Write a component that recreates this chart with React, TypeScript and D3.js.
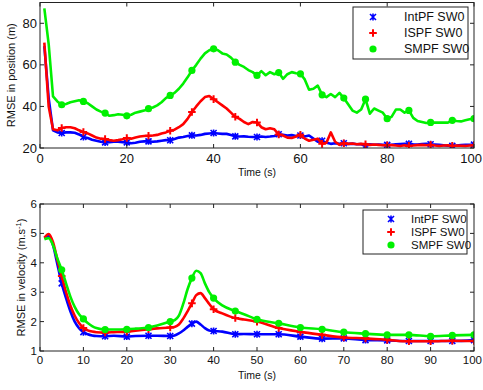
import * as d3 from 'd3';

const W = 483;
const H = 390;

// ---- top panel: RMSE in position, one sample per second
const posTime = d3.range(1, 101);
const posIntPF = [
  69, 44, 28.5, 27.5, 27.2, 27.5, 27.5, 27.3, 26.5, 25.3,
  24.8, 24, 23.5, 23, 22.7, 22.8, 23, 23, 22.8, 22.7,
  22.3, 22.5, 23, 23.2, 23.2, 23, 23.2, 23.5, 23.8, 23.7,
  24.3, 25, 25.3, 25.8, 26.1, 26, 26.3, 26.8, 27, 27.2,
  27, 26.8, 26.8, 26.3, 25.6, 25.5, 25.6, 25.4, 25.3, 25.3,
  25.5, 25.3, 25.5, 25.8, 26.6, 26.3, 26, 26.2, 25.8, 26,
  25.5, 26, 24.5, 23, 23.5, 22.5, 22, 22.3, 22, 22.3,
  22, 22.1, 21.8, 21.9, 20.8, 21.8, 21.6, 21.7, 21.5, 21.5,
  21.6, 21.8, 21.9, 22, 22, 21.8, 21.7, 21.9, 22, 21.8,
  21.7, 21.5, 21.3, 21.1, 21, 21.2, 21.4, 21.5, 21.5, 21.6,
];
const posISPF = [
  70.7, 40, 29, 28.5, 29.6, 30, 30, 29.5, 28.5, 27.7,
  27, 26, 25, 24.5, 24.3, 23.8, 23.5, 23.8, 24.2, 24.8,
  24.5, 25, 25.5, 25.8, 25.9, 26, 26.3, 27, 27.5, 28.3,
  28.8, 30, 31.5, 34, 37.3, 40, 42.5, 44.5, 45, 43.5,
  42, 40.5, 39, 37, 35, 34, 32.5, 31.5, 32.5, 32.3,
  30, 29, 29.5, 29, 26.5, 26, 25, 24.8, 25.5, 26.4,
  24.5, 23.5, 24, 24.5, 22, 22.5, 27.5, 23, 21.5, 22.3,
  22, 22.2, 21.8, 22, 21.8, 21.5, 21.7, 21.5, 21.3, 21.3,
  21.4, 21.2, 21, 21.3, 21, 21.2, 21.4, 21.5, 21.3, 21.5,
  21.2, 21, 21.2, 21.3, 21, 21.2, 21.1, 21, 21.2, 21.3,
];
const posSMPF = [
  87.2, 70, 44.8, 42.4, 40.8, 41.2, 42, 42.5, 43, 42.4,
  41.5, 40, 38.5, 37.5, 36.8, 35.5, 35.8, 36.2, 36, 35.5,
  36, 37, 37.5, 38, 38.9, 39.5, 40.5, 42, 44, 45.3,
  46.5, 48.5, 51, 54, 57.3, 60, 63, 65.5, 67, 67.7,
  67, 65.5, 65, 63.5, 61.3, 60, 59, 57.5, 56.5, 54.9,
  57, 55, 56.5, 55.5, 56.3, 53.3, 55.5, 56.5, 56, 55.7,
  53, 48, 48.5, 50, 45.6, 44.5, 46, 44.5, 46.5, 44,
  41, 38, 37, 38.5, 43.5, 36.5, 39, 38, 37, 34.1,
  35, 38.5, 38.5, 37, 38.1, 34.5, 33, 32.5, 32, 32.3,
  32.2, 32.2, 32.2, 32.2, 33.3, 33, 32.8, 33.3, 33.8, 34.1,
];

// ---- bottom panel: RMSE in velocity
const velTime = [
  1, 2, 3, 4, 5, 6, 7, 8, 9, 10, 11, 12, 13, 15, 17, 20, 22, 25, 27, 30,
  31, 32, 33, 34, 35, 36, 37, 38, 39, 40, 42, 45, 47, 50, 55, 60, 65, 70,
  75, 80, 85, 90, 95, 100,
];
const velIntPF = [
  4.85, 4.9, 4.6, 3.95, 3.3, 2.8, 2.35, 2.0, 1.78, 1.64, 1.57, 1.53, 1.51, 1.5, 1.52, 1.49, 1.51, 1.52, 1.52, 1.51,
  1.53, 1.6, 1.7, 1.82, 1.93, 2.0, 1.9, 1.78, 1.7, 1.68, 1.66, 1.57, 1.58, 1.57, 1.57, 1.49, 1.42, 1.43,
  1.37, 1.36, 1.34, 1.34, 1.34, 1.37,
];
const velISPF = [
  4.85, 4.98, 4.7, 4.1, 3.55, 3.0, 2.55, 2.2, 1.95, 1.78, 1.7, 1.66, 1.64, 1.63, 1.64, 1.66, 1.69, 1.74, 1.77, 1.8,
  1.82, 1.9, 2.1, 2.35, 2.62, 2.9, 2.97, 2.8, 2.6, 2.42, 2.28, 2.12, 2.07, 2.0, 1.78, 1.65, 1.55, 1.46,
  1.43, 1.38, 1.33, 1.33, 1.35, 1.34,
];
const velSMPF = [
  4.8, 4.84, 4.6, 4.15, 3.76, 3.3, 2.85, 2.5, 2.25, 2.09, 1.95, 1.85, 1.78, 1.73, 1.73, 1.74, 1.76, 1.8, 1.87, 2.0,
  2.05, 2.2, 2.6, 3.1, 3.48, 3.73, 3.65, 3.3, 3.0, 2.8, 2.55, 2.36, 2.25, 2.08, 1.94, 1.8, 1.74, 1.64,
  1.59, 1.55, 1.55, 1.5, 1.53, 1.55,
];

const seriesNames = ['IntPF SW0', 'ISPF SW0', 'SMPF SW0'];
const seriesColors = ['#0000ff', '#ff0000', '#00f000'];
const seriesMarkers = ['star', 'plus', 'circle'];

const posYTicks = [20, 40, 60, 80];
const posXTicks = [0, 20, 40, 60, 80, 100];
const velYTicks = [1, 2, 3, 4, 5, 6];
const velXTicks = [0, 10, 20, 30, 40, 50, 60, 70, 80, 90, 100];

const FONT = 'Liberation Sans, Arial, sans-serif';

function Marker({ kind, x, y, color }: { kind: string; x: number; y: number; color: string }) {
  if (kind === 'circle') return <circle cx={x} cy={y} r={3.6} fill={color} />;
  if (kind === 'plus') {
    const s = 3.8;
    return (
      <path d={`M${x - s},${y}H${x + s}M${x},${y - s}V${y + s}`} stroke={color} strokeWidth={2} />
    );
  }
  const s = 3;
  return (
    <path
      d={`M${x - s},${y - s}L${x + s},${y + s}M${x - s},${y + s}L${x + s},${y - s}M${x},${y - s - 0.5}V${y + s + 0.5}`}
      stroke={color}
      strokeWidth={1.6}
    />
  );
}

type PanelProps = {
  top: number;
  bottom: number;
  left: number;
  right: number;
  yDomain: [number, number];
  yTicks: number[];
  xTicks: number[];
  times: number[];
  values: number[][];
  smooth: boolean;
  tickFont: number;
  ylabel: React.ReactNode;
  ylabelX: number;
  ylabelFont: number;
  legend: { x: number; y: number; w: number; h: number; markX: number; textX: number; font: number; rows: number[] };
};

function Panel(p: PanelProps) {
  const x = d3.scaleLinear().domain([0, 100]).range([p.left, p.right]);
  const y = d3.scaleLinear().domain(p.yDomain).range([p.bottom, p.top]);
  const line = d3
    .line<number>()
    .x((_, i) => x(p.times[i]))
    .y((d) => y(d))
    .curve(p.smooth ? d3.curveMonotoneX : d3.curveLinear);
  const tl = 4;
  const midY = (p.top + p.bottom) / 2;
  const lastTick = p.xTicks[p.xTicks.length - 1];
  return (
    <g>
      <defs>
        <clipPath id={`clip${p.top}`}>
          <rect x={p.left} y={p.top} width={p.right - p.left} height={p.bottom - p.top} />
        </clipPath>
      </defs>
      <rect x={p.left} y={p.top} width={p.right - p.left} height={p.bottom - p.top} fill="#fff" />
      <g clipPath={`url(#clip${p.top})`}>
        {p.values.map((vals, k) => (
          <g key={k}>
            <path d={line(vals) || ''} fill="none" stroke={seriesColors[k]} strokeWidth={2.6} strokeLinejoin="round" />
            {vals.map((v, i) =>
              p.times[i] % 5 === 0 ? (
                <Marker key={i} kind={seriesMarkers[k]} x={x(p.times[i])} y={y(v)} color={seriesColors[k]} />
              ) : null
            )}
          </g>
        ))}
      </g>
      {/* frame and inward ticks */}
      <rect x={p.left} y={p.top} width={p.right - p.left} height={p.bottom - p.top} fill="none" stroke="#222" strokeWidth={1} />
      {p.xTicks.map((t) => (
        <g key={'x' + t}>
          <line x1={x(t)} x2={x(t)} y1={p.bottom} y2={p.bottom - tl} stroke="#222" />
          <line x1={x(t)} x2={x(t)} y1={p.top} y2={p.top + tl} stroke="#222" />
          <text
            x={t === lastTick ? W - 1 : x(t)}
            y={p.bottom + 3}
            dy="0.9em"
            textAnchor={t === lastTick ? 'end' : 'middle'}
            fontSize={p.tickFont}
            fontFamily={FONT}
            fill="#111"
          >
            {t}
          </text>
        </g>
      ))}
      {p.yTicks.map((t) => (
        <g key={'y' + t}>
          <line x1={p.left} x2={p.left + tl} y1={y(t)} y2={y(t)} stroke="#222" />
          <line x1={p.right} x2={p.right - tl} y1={y(t)} y2={y(t)} stroke="#222" />
          <text x={p.left - 3} y={y(t)} dy="0.35em" textAnchor="end" fontSize={p.tickFont} fontFamily={FONT} fill="#111">
            {t}
          </text>
        </g>
      ))}
      <text x={(p.left + p.right) / 2} y={p.bottom + 28} textAnchor="middle" fontSize={10.5} fontFamily={FONT} fill="#111">
        Time (s)
      </text>
      <text
        transform={`translate(${p.ylabelX},${midY}) rotate(-90)`}
        textAnchor="middle"
        fontSize={p.ylabelFont}
        fontFamily={FONT}
        fill="#111"
      >
        {p.ylabel}
      </text>
      <rect x={p.legend.x} y={p.legend.y} width={p.legend.w} height={p.legend.h} fill="#fff" stroke="#222" />
      {seriesNames.map((name, k) => (
        <g key={name}>
          <Marker kind={seriesMarkers[k]} x={p.legend.markX} y={p.legend.rows[k]} color={seriesColors[k]} />
          <text x={p.legend.textX} y={p.legend.rows[k]} dy="0.35em" fontSize={p.legend.font} fontFamily={FONT} fill="#111">
            {name}
          </text>
        </g>
      ))}
    </g>
  );
}

export default function App() {
  return (
    <svg
      width={W}
      height={H}
      style={{ position: 'absolute', left: 0, top: 0, background: '#fff' }}
    >
      <Panel
        top={2.5}
        bottom={148}
        left={40}
        right={474}
        yDomain={[20, 90]}
        yTicks={posYTicks}
        xTicks={posXTicks}
        times={posTime}
        values={[posIntPF, posISPF, posSMPF]}
        smooth={false}
        tickFont={13}
        ylabel="RMSE in position (m)"
        ylabelX={15}
        ylabelFont={11}
        legend={{ x: 353, y: 7, w: 115, h: 52, markX: 373, textX: 404, font: 12.5, rows: [17, 33, 49] }}
      />
      <Panel
        top={204}
        bottom={351}
        left={40}
        right={474}
        yDomain={[1, 6]}
        yTicks={velYTicks}
        xTicks={velXTicks}
        times={velTime}
        values={[velIntPF, velISPF, velSMPF]}
        smooth={true}
        tickFont={11.5}
        ylabel={
          <>
            RMSE in velocity (m.s
            <tspan dy={-4} fontSize={7.5}>-1</tspan>
            <tspan dy={4}>)</tspan>
          </>
        }
        ylabelX={25}
        ylabelFont={11}
        legend={{ x: 363, y: 210, w: 104, h: 44, markX: 391, textX: 411, font: 11.5, rows: [219, 232, 245] }}
      />
    </svg>
  );
}
